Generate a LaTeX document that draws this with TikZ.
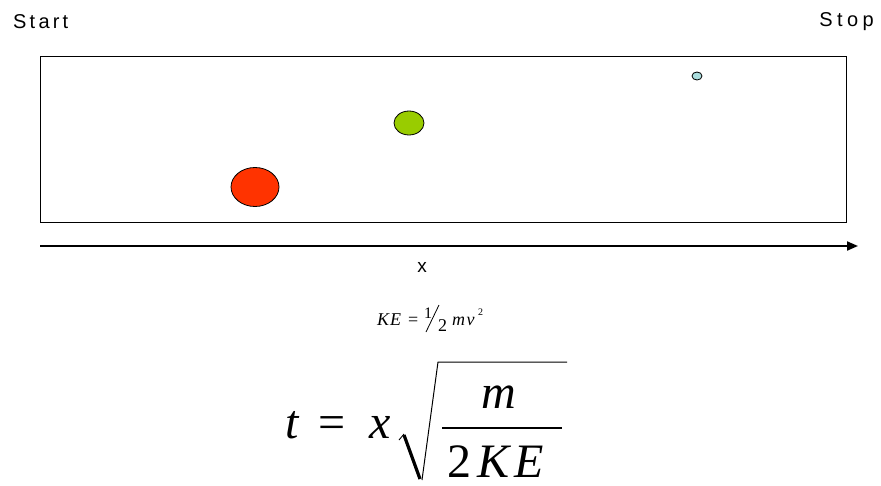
\documentclass[tikz,border=0pt]{standalone}
\usepackage{fontspec}
\setmainfont{Liberation Serif}
\newfontfamily\arl[LetterSpace=16]{Liberation Sans}
\newfontfamily\arlw[LetterSpace=22]{Liberation Sans}
\newfontfamily\tms{Liberation Serif}
\usetikzlibrary{arrows.meta,shapes.geometric}
\begin{document}
\begin{tikzpicture}[x=1pt,y=-1pt,
  lbl/.style={inner sep=0pt,font=\arl\fontsize{20}{20}\selectfont},
  ball/.style={ellipse,draw=black,line width=0.8pt,inner sep=0pt},
  big/.style={inner sep=0pt,text depth=0pt,anchor=base west,font=\tms\itshape\fontsize{48}{48}\selectfont},
  bigu/.style={inner sep=0pt,text depth=0pt,anchor=base west,font=\tms\fontsize{48}{48}\selectfont},
  sm/.style={inner sep=0pt,anchor=base west,font=\tms\itshape\fontsize{18}{18}\selectfont},
  smu/.style={inner sep=0pt,anchor=base west,font=\tms\fontsize{18}{18}\selectfont}]
\useasboundingbox (0,0) rectangle (881,485);
% labels
\node[lbl,anchor=west] (start) at (13,22) {Start};
\node[lbl,anchor=east,font=\arlw\fontsize{20}{20}\selectfont] (stop) at (874,22) {Stop};
% box
\node[draw=black,line width=0.9pt,minimum width=806pt,minimum height=166pt,inner sep=0pt] (box) at (443,139) {};
% balls
\node[ball,fill={rgb,255:red,255;green,51;blue,0},minimum width=48pt,minimum height=39pt] (red) at (255,187) {};
\node[ball,fill={rgb,255:red,153;green,204;blue,0},minimum width=30pt,minimum height=24pt] (green) at (409,123) {};
\node[ball,fill={rgb,255:red,170;green,221;blue,221},minimum width=10pt,minimum height=8pt] (blue) at (697,76) {};
% axis
\coordinate (a0) at (40,246);
\coordinate (a1) at (858,246);
\draw[line width=2pt,-{Triangle[length=11pt,width=9pt]}] (a0) -- (a1);
\node[inner sep=0pt,font=\fontspec{Liberation Sans}\fontsize{19}{19}\selectfont] (xl) at (422,267) {x};
% KE = 1/2 m v^2
\node[sm] (ke) at (377,325) {K\kern1pt E};
\node[smu] (eq1) at (408,325) {=};
\node[smu,font=\tms\fontsize{16}{16}\selectfont] (one) at (424,318) {1};
\coordinate (s0) at (426,332);
\coordinate (s1) at (439,305);
\draw[line width=0.8pt] (s0) -- (s1);
\node[smu,font=\tms\fontsize{18}{18}\selectfont] (two) at (438,331) {2};
\node[sm] (mv) at (452,325) {m\kern1.5pt v};
\node[smu,font=\tms\fontsize{10}{10}\selectfont] (sq) at (478,315) {2};
% t = x sqrt(m / 2KE)
\node[big] (t) at (285,438) {t};
\node[bigu] (eq2) at (318,438) {=};
\node[big] (x) at (369,438) {x};
\coordinate (r0) at (399,440);
\coordinate (r1) at (404,434);
\coordinate (r2) at (422,480);
\coordinate (r3) at (438,362);
\coordinate (r4) at (567,362);
\draw[line width=0.9pt] (r0) -- (r1);
\draw[line width=3.2pt] (404,435) -- (420,479);
\draw[line width=1pt] (r2) -- (r3) -- (r4);
\coordinate (f0) at (442,428);
\coordinate (f1) at (562,428);
\draw[line width=1.6pt] (f0) -- (f1);
\node[big,anchor=base] (m) at (499,408) {m};
\node[bigu] (two2) at (447,477) {2};
\node[big] (kbig) at (477,477) {K\kern5pt E};
\end{tikzpicture}
\end{document}
